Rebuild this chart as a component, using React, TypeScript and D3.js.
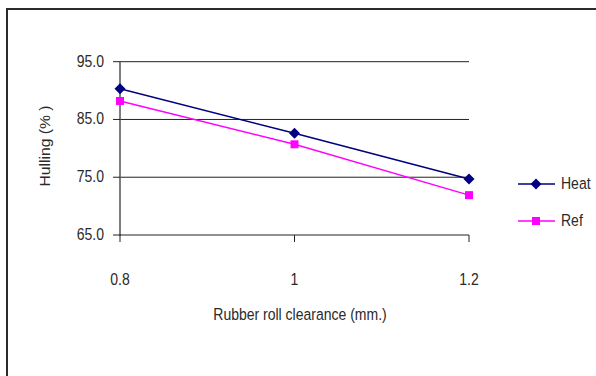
import React, { useEffect, useRef } from 'react';
import * as d3 from 'd3';

const categories = ['0.8', '1', '1.2'];
const heatValues = [90.3, 82.6, 74.7];
const refValues = [88.2, 80.7, 71.9];
const yTicks = [65, 75, 85, 95];

const W = 596;
const H = 376;
const FONT = '"Liberation Sans", Arial, sans-serif';
const STRETCH = 1.12;

const App: React.FC = () => {
  const svgRef = useRef<SVGSVGElement>(null);

  useEffect(() => {
    if (!svgRef.current) return;
    const svg = d3.select(svgRef.current);
    svg.selectAll('*').remove();

    // outer frame (right and bottom edges fall outside the picture)
    svg.append('rect')
      .attr('x', 7).attr('y', 9)
      .attr('width', W + 20).attr('height', H + 20)
      .attr('fill', 'none')
      .attr('stroke', '#2b2b2b')
      .attr('stroke-width', 2);

    const x = d3.scalePoint<string>().domain(categories).range([120, 469]);
    const y = d3.scaleLinear().domain([65, 95]).range([235, 61.7]);

    const label = (tx: number, ty: number, txt: string, anchor: string) =>
      svg.append('text')
        .attr('transform', `translate(${tx},${ty}) scale(1,${STRETCH})`)
        .attr('text-anchor', anchor)
        .attr('font-family', FONT)
        .attr('font-size', 14)
        .attr('fill', '#2a2a2a')
        .text(txt);

    // gridlines
    yTicks.slice(1).forEach(t => {
      svg.append('line')
        .attr('x1', 120).attr('x2', 469)
        .attr('y1', y(t)).attr('y2', y(t))
        .attr('stroke', '#222')
        .attr('stroke-width', 1);
    });

    // y axis
    svg.append('line')
      .attr('x1', 120).attr('x2', 120)
      .attr('y1', y(95)).attr('y2', y(65) + 1)
      .attr('stroke', '#555')
      .attr('stroke-width', 1.5);
    yTicks.forEach(t => {
      svg.append('line')
        .attr('x1', 113).attr('x2', 120)
        .attr('y1', y(t)).attr('y2', y(t))
        .attr('stroke', '#222');
      label(104, y(t) + 5, t.toFixed(1), 'end');
    });

    // x axis
    svg.append('line')
      .attr('x1', 120).attr('x2', 469)
      .attr('y1', y(65)).attr('y2', y(65))
      .attr('stroke', '#222')
      .attr('stroke-width', 1.2);
    categories.forEach(c => {
      svg.append('line')
        .attr('x1', x(c)!).attr('x2', x(c)!)
        .attr('y1', y(65)).attr('y2', y(65) + 7)
        .attr('stroke', '#222');
      label(x(c)!, 285, c, 'middle');
    });

    label(300, 320, 'Rubber roll clearance (mm.)', 'middle');

    svg.append('text')
      .attr('transform', `translate(50,146) rotate(-90) scale(${STRETCH},1)`)
      .attr('text-anchor', 'middle')
      .attr('font-family', FONT)
      .attr('font-size', 14)
      .attr('fill', '#2a2a2a')
      .text('Hulling (% )');

    const line = d3.line<number>()
      .x((_, i) => x(categories[i])!)
      .y(d => y(d));

    const diamondPath = 'M0,-5.5L5.5,0L0,5.5L-5.5,0Z';

    const drawMarker = (cx: number, cy: number, color: string, kind: string) => {
      if (kind === 'diamond') {
        svg.append('path')
          .attr('d', diamondPath)
          .attr('transform', `translate(${cx},${cy})`)
          .attr('fill', color);
      } else {
        svg.append('rect')
          .attr('x', cx - 4).attr('y', cy - 4)
          .attr('width', 8).attr('height', 8)
          .attr('fill', color);
      }
    };

    const drawSeries = (vals: number[], color: string, kind: string) => {
      svg.append('path')
        .attr('d', line(vals)!)
        .attr('fill', 'none')
        .attr('stroke', color)
        .attr('stroke-width', 1.5);
      vals.forEach((v, i) => drawMarker(x(categories[i])!, y(v), color, kind));
    };

    drawSeries(heatValues, '#000080', 'diamond');
    drawSeries(refValues, '#ff00ff', 'square');

    // legend
    const legend = [
      { name: 'Heat', color: '#000080', kind: 'diamond', ly: 184 },
      { name: 'Ref', color: '#ff00ff', kind: 'square', ly: 221 },
    ];
    legend.forEach(l => {
      svg.append('line')
        .attr('x1', 518).attr('x2', 555)
        .attr('y1', l.ly).attr('y2', l.ly)
        .attr('stroke', l.color)
        .attr('stroke-width', 1.5);
      drawMarker(536, l.ly, l.color, l.kind);
      label(561, l.ly + 5, l.name, 'start');
    });
  }, []);

  return (
    <svg
      ref={svgRef}
      width={W}
      height={H}
      style={{ position: 'absolute', left: 0, top: 0, background: '#fff' }}
    />
  );
};

export default App;
